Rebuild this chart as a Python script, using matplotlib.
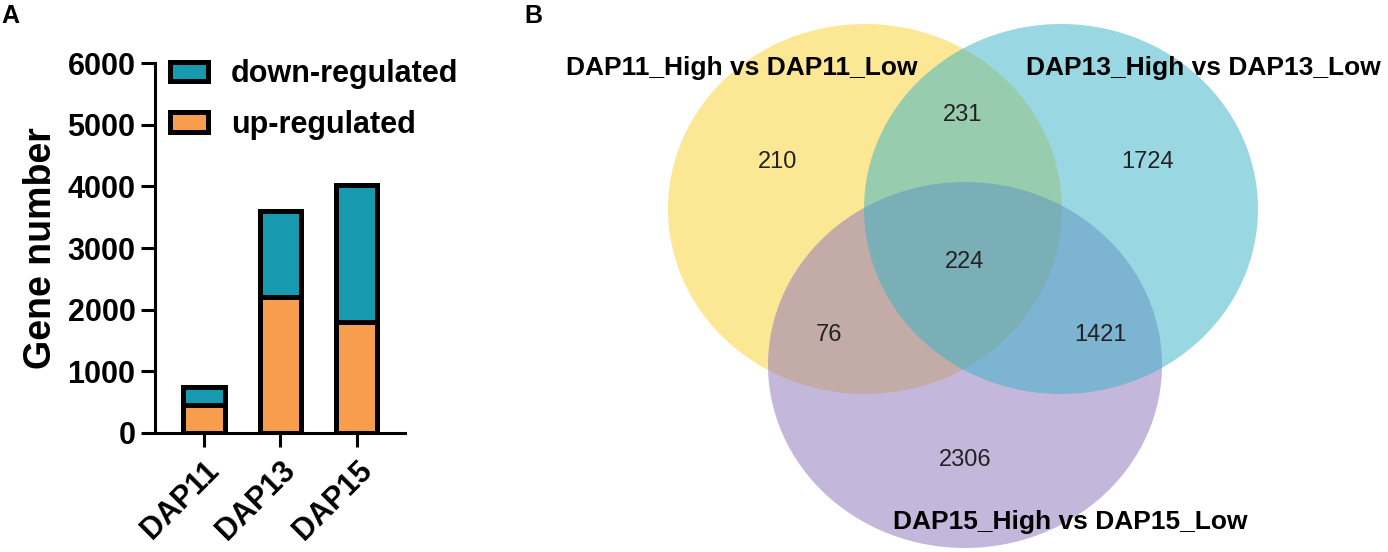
import matplotlib
matplotlib.use("Agg")
import matplotlib.pyplot as plt
from matplotlib.patches import Ellipse, Patch

plt.rcParams['font.family'] = ['Liberation Sans', 'DejaVu Sans']

# panel A data
stages = ['DAP11', 'DAP13', 'DAP15']
upRegulated = [450, 2200, 1800]
downRegulated = [291, 1400, 2227]
yTicks = [0, 1000, 2000, 3000, 4000, 5000, 6000]

# panel B data (venn region counts)
setNames = ['DAP11_High vs DAP11_Low', 'DAP13_High vs DAP13_Low', 'DAP15_High vs DAP15_Low']
onlyA, onlyB, onlyC = 210, 1724, 2306
AB, AC, BC, ABC = 231, 76, 1421, 224

orange = '#F89D4E'
teal = '#1799B0'

W, H = 1388, 552
fig = plt.figure(figsize=(W/100, H/100), dpi=100)

# ---- A: stacked bars
ax = fig.add_axes([155/W, (H-433)/H, 250/W, 370/H])
x = list(range(len(stages)))
ax.bar(x, upRegulated, width=0.54, color=orange, edgecolor='black', linewidth=3.6, label='up-regulated', zorder=3)
ax.bar(x, downRegulated, width=0.54, bottom=upRegulated, color=teal, edgecolor='black', linewidth=3.6,
       label='down-regulated', zorder=3)
ax.set_xlim(-0.64, 2.63)
ax.set_ylim(0, 6000)
ax.set_yticks(yTicks)
ax.set_xticks(x)
ax.set_xticklabels(stages, rotation=45, ha='right', rotation_mode='anchor', fontsize=22, fontweight='bold')
ax.set_yticklabels([str(t) for t in yTicks], fontsize=22, fontweight='bold')
ax.tick_params(axis='both', length=10, width=2.2, color='black')
ax.tick_params(axis='x', pad=6)
ax.tick_params(axis='y', pad=4)
for s in ['top', 'right']:
    ax.spines[s].set_visible(False)
for s in ['left', 'bottom']:
    ax.spines[s].set_linewidth(2.2)
ax.set_ylabel('Gene number', fontsize=27, fontweight='bold', labelpad=6)

handles = [Patch(facecolor=teal, edgecolor='black', linewidth=3.6, label='down-regulated'),
           Patch(facecolor=orange, edgecolor='black', linewidth=3.6, label='up-regulated')]
ax.legend(handles=handles, loc='upper left', bbox_to_anchor=(15/250, 1 + 4/370), frameon=False,
          prop={'weight': 'bold', 'size': 22}, borderpad=0, borderaxespad=0,
          handlelength=1.25, handleheight=0.6, handletextpad=0.75, labelspacing=0.68)

# ---- B: venn, drawn in pixel units
vx = fig.add_axes([0, 0, 1, 1], zorder=-1)
vx.set_xlim(0, W)
vx.set_ylim(H, 0)
vx.axis('off')
vx.add_patch(Ellipse((865, 209), 394, 370, color='#FBD12D', alpha=0.5, lw=0))
vx.add_patch(Ellipse((965, 365), 394, 366, color='#8B71BB', alpha=0.5, lw=0))
vx.add_patch(Ellipse((1061, 209), 394, 370, color='#35B3C7', alpha=0.5, lw=0))

numFont = dict(fontsize=17, color='#222222', ha='center', va='center')
vx.text(778, 162, str(onlyA), **numFont)
vx.text(1148, 162, str(onlyB), **numFont)
vx.text(965, 460, str(onlyC), **numFont)
vx.text(963, 115, str(AB), **numFont)
vx.text(829, 335, str(AC), **numFont)
vx.text(1101, 335, str(BC), **numFont)
vx.text(965, 262, str(ABC), **numFont)

labFont = dict(fontsize=19, fontweight='bold', color='black', ha='center', va='center')
vx.text(742, 68, setNames[0], **labFont)
vx.text(1203, 68, setNames[1], **labFont)
vx.text(1070, 522, setNames[2], **labFont)

letterFont = dict(fontsize=18, fontweight='bold', va='top', ha='left')
vx.text(1, 4, 'A', **letterFont)
vx.text(524, 4, 'B', **letterFont)

fig.savefig('out.png', dpi=100)
